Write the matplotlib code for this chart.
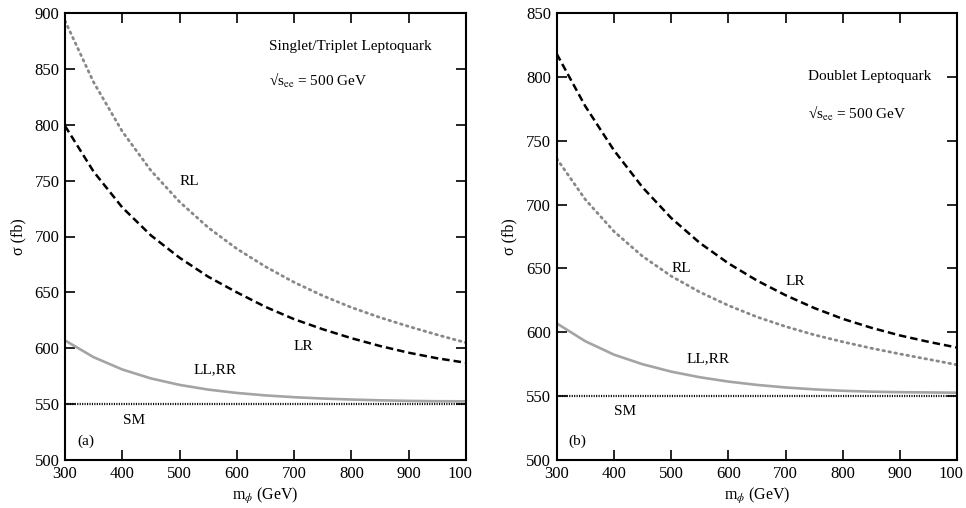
import matplotlib
matplotlib.use("Agg")
import matplotlib.pyplot as plt
import matplotlib.transforms as mtransforms

plt.rcParams['font.family'] = ['Liberation Serif', 'DejaVu Serif']
plt.rcParams['mathtext.fontset'] = 'stix'

# masses (GeV)
m = [300, 350, 400, 450, 500, 550, 600, 650, 700, 750, 800, 850, 900, 950, 1000]

# (a) Singlet/Triplet leptoquark
a_RL = [893, 838, 794, 759, 731, 708, 689, 673, 659, 647, 636.5, 627.5, 619.5, 612, 605]
a_LR = [799, 758, 726, 701, 681, 664, 650, 637, 626, 617, 609, 602, 596, 591, 587]
a_LL = [607, 592, 581, 573, 567.2, 563, 560, 557.8, 556.2, 555, 554.1, 553.4, 552.9, 552.6, 552.5]
# (b) Doublet leptoquark
b_LR = [818, 777, 742.5, 713.5, 689.5, 670, 654, 640.5, 629, 619, 610.5, 603.5, 597.5, 592.5, 588]
b_RL = [736, 704, 679, 659.5, 644, 631.5, 621, 612, 604.5, 598, 592.5, 587.5, 583, 578.8, 574.5]
b_LL = [607, 593, 582.5, 575, 569.2, 564.8, 561.4, 558.8, 556.8, 555.3, 554.2, 553.5, 553.1, 552.9, 552.7]
SM = 550

xticks = [300, 400, 500, 600, 700, 800, 900, 1000]
xticklabels = ['300', '400', '500', '600', '700', '800', '900', '100']

fig = plt.figure(figsize=(9.66, 5.08), dpi=100)
axA = fig.add_axes([65/966, 1-460/508, 401/966, 447/508])
axB = fig.add_axes([556.7/966, 1-460/508, 400.6/966, 447/508])

def style(ax, ylim, yticks):
    ax.set_xlim(300, 1000)
    ax.set_ylim(*ylim)
    ax.set_xticks(xticks)
    ax.set_xticklabels(xticklabels)
    ax.set_yticks(yticks)
    ax.tick_params(direction='in', length=7, width=1.2, top=True, right=True,
                   labelsize=12, pad=4, colors='black')
    for s in ax.spines.values():
        s.set_linewidth(1.5)
    ax.set_xlabel(r'm$_\phi$ (GeV)', fontsize=11.5, labelpad=3)
    ax.set_ylabel('σ (fb)', fontsize=11.5, labelpad=6)
    last = ax.get_xticklabels()[-1]
    last.set_transform(last.get_transform() +
                       mtransforms.ScaledTranslation(-6/100, 0, fig.dpi_scale_trans))

def draw(ax, rl, lr, ll):
    ax.plot(m, rl, color='#888888', lw=2.0, linestyle=(0, (0.6, 1.6)), dash_capstyle='round')
    ax.plot(m, lr, color='black', lw=1.8, linestyle=(0, (3, 1.6)))
    ax.plot(m, ll, color='#a4a4a4', lw=1.9, linestyle='-')
    ax.plot([300, 1000], [SM, SM], color='black', lw=1.6, linestyle=(0, (0.5, 0.6)))

draw(axA, a_RL, a_LR, a_LL)
style(axA, (500, 900), [500, 550, 600, 650, 700, 750, 800, 850, 900])
fs = 11
axA.text(656, 869.6, 'Singlet/Triplet Leptoquark', fontsize=fs, va='center')
axA.text(656, 840, r'√s$_{\rm ee}$ = 500 GeV', fontsize=fs, va='center')
axA.text(500.7, 748.8, 'RL', fontsize=fs, va='center')
axA.text(699.7, 602, 'LR', fontsize=fs, va='center')
axA.text(525, 580.5, 'LL,RR', fontsize=fs, va='center')
axA.text(401, 535, 'SM', fontsize=fs, va='center')
axA.text(321, 517, '(a)', fontsize=fs, va='center')

draw(axB, b_RL, b_LR, b_LL)
style(axB, (500, 850), [500, 550, 600, 650, 700, 750, 800, 850])
axB.text(739, 800, 'Doublet Leptoquark', fontsize=fs, va='center')
axB.text(739, 771.7, r'√s$_{\rm ee}$ = 500 GeV', fontsize=fs, va='center')
axB.text(501, 650, 'RL', fontsize=fs, va='center')
axB.text(699, 639.5, 'LR', fontsize=fs, va='center')
axB.text(526, 579, 'LL,RR', fontsize=fs, va='center')
axB.text(400, 537.6, 'SM', fontsize=fs, va='center')
axB.text(320, 515, '(b)', fontsize=fs, va='center')

fig.savefig('out.png', dpi=100)
